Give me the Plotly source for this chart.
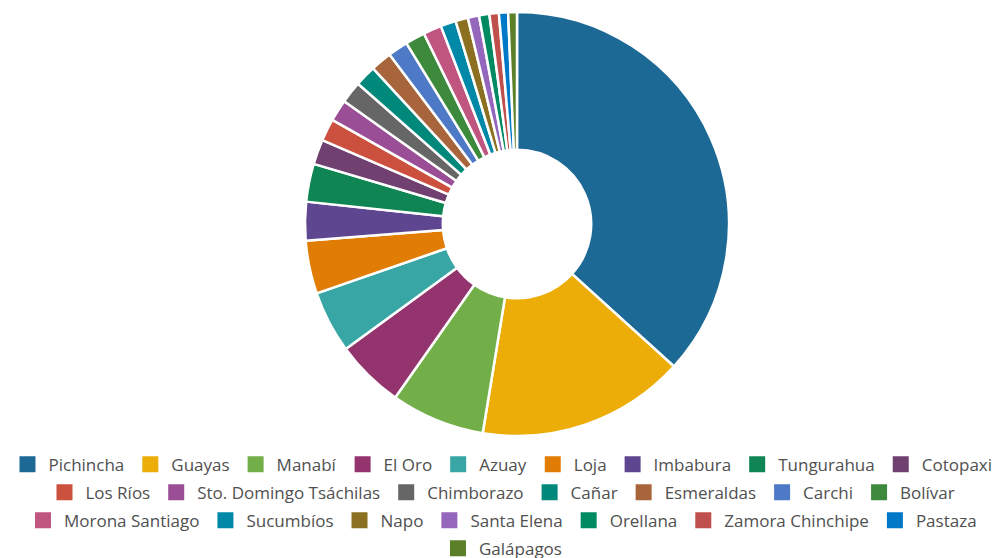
import plotly.graph_objects as go

provinces = ["Pichincha", "Guayas", "Manabí", "El Oro", "Azuay", "Loja", "Imbabura",
             "Tungurahua", "Cotopaxi", "Los Ríos", "Sto. Domingo Tsáchilas", "Chimborazo",
             "Cañar", "Esmeraldas", "Carchi", "Bolívar", "Morona Santiago", "Sucumbíos",
             "Napo", "Santa Elena", "Orellana", "Zamora Chinchipe", "Pastaza", "Galápagos"]

values = [132.0, 57.0, 25.7, 18.8, 17.0, 14.5, 10.6, 10.4, 6.8, 6.1, 6.0, 6.0,
          5.8, 5.8, 5.5, 5.4, 5.0, 4.2, 3.4, 3.1, 2.8, 2.6, 2.5, 2.4]

colors = ["#1D6996", "#EDAD08", "#73AF48", "#94346E", "#38A6A5", "#E17C05", "#5F4690",
          "#0F8554", "#6F4070", "#CC503E", "#994E95", "#666666", "#00897B", "#A8643A",
          "#4E79C7", "#3D8A3D", "#C05580", "#0088A8", "#8B7022", "#9467BD", "#008A62",
          "#C0504D", "#0078C8", "#5C7F2A"]

# number of legend entries on each legend row (as wrapped in the reference)
legend_rows = [9, 7, 7, 1]
legend_row_y = [0.1815, 0.1313, 0.0811, 0.0310]  # container fraction

FONT = "Open Sans, sans-serif"
TEXT_COLOR = "#505050"

fig = go.Figure()
fig.add_trace(go.Pie(
    labels=provinces,
    values=values,
    hole=0.35,
    sort=False,
    direction="clockwise",
    rotation=0,
    textinfo="none",
    showlegend=False,
    marker=dict(colors=colors, line=dict(color="white", width=2.5)),
))

# legend entries, one legend per row so that each row flows and is centred
idx = 0
legend_layouts = {}
for r, n in enumerate(legend_rows):
    lname = "legend" if r == 0 else f"legend{r + 1}"
    for _ in range(n):
        fig.add_trace(go.Scatter(
            x=[None], y=[None], mode="markers",
            name=provinces[idx],
            marker=dict(symbol="square", size=16, color=colors[idx]),
            legend=lname, showlegend=True, hoverinfo="skip",
        ))
        idx += 1
    legend_layouts[lname] = dict(
        orientation="h",
        xref="container", yref="container",
        x=0.493, xanchor="center",
        y=legend_row_y[r], yanchor="middle",
        itemwidth=32,
        font=dict(family=FONT, size=17, color=TEXT_COLOR),
        bgcolor="rgba(0,0,0,0)",
    )

fig.update_layout(
    width=1002, height=558,
    margin=dict(l=16, r=0, t=4, b=130, autoexpand=False),
    paper_bgcolor="white",
    plot_bgcolor="white",
    font=dict(family=FONT, size=17, color=TEXT_COLOR),
    xaxis=dict(visible=False),
    yaxis=dict(visible=False),
    **legend_layouts,
)

fig.write_html("out.html")
